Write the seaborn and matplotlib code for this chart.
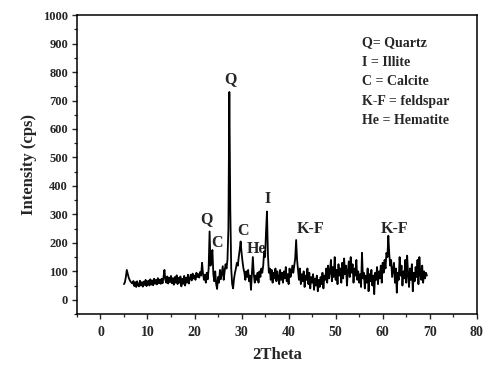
import numpy as np
import pandas as pd
import matplotlib
matplotlib.use("Agg")
import matplotlib.pyplot as plt
import seaborn as sns
from matplotlib.ticker import MultipleLocator

# XRD pattern, one value every 0.2 deg 2Theta from 5.0
two_theta = np.round(np.arange(5.0, 69.5, 0.2), 1)
intensity = [
    55, 62, 80, 105, 92, 78, 70, 64, 60, 57,
    66, 48, 62, 45, 65, 50, 47, 67, 50, 62,
    46, 64, 52, 70, 48, 63, 67, 50, 72, 53,
    68, 51, 74, 56, 70, 54, 76, 58, 71, 56,
    74, 58, 79, 105, 70, 60, 82, 57, 78, 62,
    84, 58, 76, 53, 80, 60, 86, 55, 77, 60,
    82, 47, 74, 56, 84, 50, 78, 60, 88, 57,
    76, 88, 68, 92, 75, 85, 70, 95, 80, 90,
    78, 98, 85, 130, 92, 70, 88, 60, 95, 72,
    110, 240, 120, 150, 175, 90, 65, 100, 55, 38,
    80, 60, 105, 72, 95, 118, 70, 100, 125, 110,
    140, 250, 730, 320, 110, 55, 40, 75, 95, 110,
    130, 120, 150, 175, 205, 165, 135, 110, 95, 70,
    100, 80, 105, 65, 85, 35, 95, 150, 90, 60,
    85, 70, 95, 60, 100, 80, 110, 95, 120, 170,
    150, 240, 310, 160, 95, 110, 70, 105, 60, 95,
    75, 110, 65, 100, 80, 55, 105, 70, 95, 60,
    100, 75, 115, 65, 90, 55, 110, 80, 95, 120,
    95, 120, 145, 210, 140, 105, 70, 110, 55, 90,
    65, 100, 45, 85, 70, 110, 55, 95, 40, 80,
    60, 90, 35, 75, 50, 85, 30, 70, 45, 80,
    55, 95, 40, 85, 70, 110, 60, 120, 75, 100,
    140, 65, 115, 80, 150, 70, 105, 55, 125, 85,
    110, 60, 130, 75, 145, 90, 120, 50, 100, 135,
    80, 150, 95, 125, 60, 110, 85, 140, 70, 100,
    60, 90, 45, 165, 75, 95, 40, 85, 60, 110,
    30, 90, 65, 105, 50, 85, 20, 95, 70, 115,
    55, 100, 75, 120, 60, 130, 95, 140, 110, 165,
    150, 225, 160, 120, 140, 80, 105, 130, 60, 110,
    25, 95, 70, 150, 85, 120, 50, 100, 75, 140,
    60, 155, 90, 45, 110, 70, 125, 30, 95, 65,
    115, 80, 140, 55, 150, 90, 70, 120, 60, 100,
    75, 95, 85,
]

peak_labels = ["Q", "C", "Q", "C", "He", "I", "K-F", "K-F"]
peak_x = [22.6, 24.7, 27.6, 30.4, 33.2, 35.6, 44.7, 62.6]
peak_y = [282, 200, 776, 243, 178, 355, 247, 247]

legend_lines = ["Q= Quartz", "I = Illite", "C = Calcite",
                "K-F = feldspar", "He = Hematite"]
legend_y = [902, 835, 767, 697, 630]

df = pd.DataFrame({"two_theta": two_theta, "intensity": intensity})

sns.set_style("ticks")
plt.rcParams["font.family"] = ["Liberation Serif", "DejaVu Serif"]
plt.rcParams["font.weight"] = "bold"

fig = plt.figure(figsize=(4.9, 3.69), dpi=100)
ax = fig.add_axes([0.157, 0.149, 0.816, 0.810])

sns.lineplot(data=df, x="two_theta", y="intensity", color="black",
             linewidth=1.3, estimator=None, sort=False, ax=ax)

for lab, x, y in zip(peak_labels, peak_x, peak_y):
    ax.text(x, y, lab, ha="center", va="center", fontsize=11.5,
            fontweight="bold")

for line, y in zip(legend_lines, legend_y):
    ax.text(55.7, y, line, ha="left", va="center", fontsize=10,
            fontweight="bold")

ax.set_xlim(-5, 80)
ax.set_ylim(-50, 1000)
ax.xaxis.set_major_locator(MultipleLocator(10))
ax.xaxis.set_minor_locator(MultipleLocator(5))
ax.yaxis.set_major_locator(MultipleLocator(100))
ax.yaxis.set_minor_locator(MultipleLocator(50))
ax.tick_params(which="major", direction="out", length=3.5, width=1.0)
ax.tick_params(which="minor", direction="out", length=2, width=0.9)
ax.tick_params(axis="x", labelsize=10, pad=5)
ax.tick_params(axis="y", labelsize=9, pad=3)
for lab in ax.get_xticklabels() + ax.get_yticklabels():
    lab.set_fontweight("bold")
for sp in ax.spines.values():
    sp.set_visible(True)
    sp.set_linewidth(1.1)
    sp.set_color("black")

ax.set_xlabel("2Theta", fontsize=12, fontweight="bold", labelpad=6)
ax.set_ylabel("Intensity (cps)", fontsize=12, fontweight="bold", labelpad=4)

fig.savefig("out.png", dpi=100)
